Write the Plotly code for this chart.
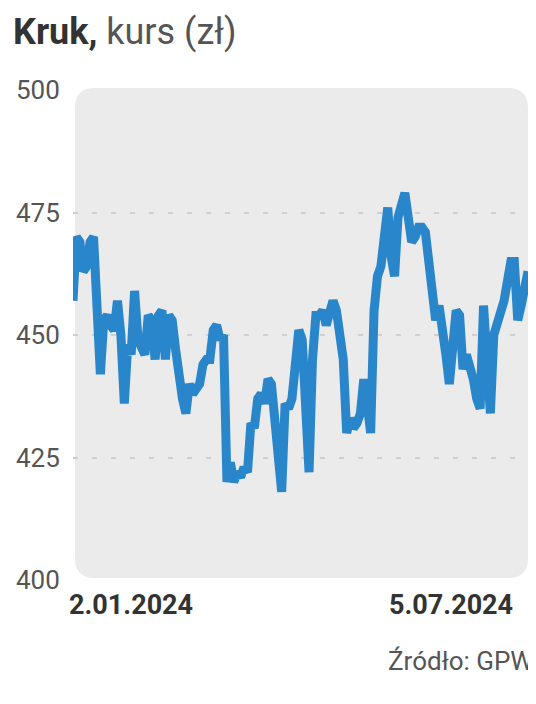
import plotly.graph_objects as go

# Data
title_bold = "Kruk,"
title_rest = " kurs (zł)"
source_text = "Źródło: GPW"
date_labels = ["2.01.2024", "5.07.2024"]
y_ticks = [400, 425, 450, 475, 500]
prices = [
    457, 470, 469, 463, 464, 469, 470, 452, 442, 453,
    454, 452, 451, 457, 450, 436, 448, 446, 459, 449,
    447, 446, 454, 453, 445, 454, 455, 445, 454, 453,
    447, 440, 437, 434, 440, 438, 439, 440, 444, 445,
    445, 451, 452, 449, 450, 420, 424, 420, 422, 421,
    423, 422, 432, 431, 437, 438, 436, 441, 440, 433,
    424, 418, 436, 435, 437, 445, 451, 449, 438, 422,
    445, 454, 454, 455, 452, 455, 457, 455, 449, 445,
    430, 433, 431, 432, 434, 441, 436, 430, 455, 462,
    464, 471, 476, 466, 462, 474, 476, 479, 474, 469,
    470, 472, 472, 471, 465, 458, 453, 456, 449, 446,
    440, 447, 455, 454, 443, 446, 444, 441, 437, 435,
    456, 440, 434, 450, 452, 454, 457, 461, 465, 465,
    453, 456, 461, 463,
]
days = list(range(len(prices)))

# page body has an 8px margin, so the figure is sized/offset accordingly
W, H = 528, 696
L, R, T, B = 59, 8, 82, 124
pw, ph = W - L - R, H - T - B

fig = go.Figure()
fig.add_trace(go.Scatter(
    x=days, y=prices, mode="lines",
    line=dict(color="#2a86cb", width=9, shape="linear"),
    hoverinfo="skip", showlegend=False, cliponaxis=False,
))

# rounded background rectangle (paper coords)
x0 = 2 / pw
x1 = 1.0
y0 = 2 / ph
y1 = 1 + 2 / ph
rad = 20
rx, ry = rad / pw, rad / ph
path = (
    f"M {x0+rx},{y0} L {x1-rx},{y0} Q {x1},{y0} {x1},{y0+ry} "
    f"L {x1},{y1-ry} Q {x1},{y1} {x1-rx},{y1} "
    f"L {x0+rx},{y1} Q {x0},{y1} {x0},{y1-ry} "
    f"L {x0},{y0+ry} Q {x0},{y0} {x0+rx},{y0} Z"
)
fig.add_shape(type="path", path=path, xref="paper", yref="paper",
              fillcolor="#ebebeb", line=dict(width=0), layer="below")

font_main = "Roboto, Liberation Sans, DejaVu Sans, sans-serif"

fig.update_layout(
    width=W, height=H,
    margin=dict(l=L, r=R, t=T, b=B, pad=0),
    paper_bgcolor="white", plot_bgcolor="rgba(0,0,0,0)",
    showlegend=False,
    xaxis=dict(range=[days[0], days[-1]], showgrid=False, zeroline=False,
               showticklabels=False, showline=False, fixedrange=True),
    yaxis=dict(range=[400, 500], tickvals=y_ticks,
               ticktext=[str(v) for v in y_ticks],
               showgrid=True, gridcolor="#cfcfcf", gridwidth=1.5,
               griddash="5px,14px",
               zeroline=False, showline=False,
               ticks="outside", ticklen=7, tickcolor="rgba(0,0,0,0)",
               tickfont=dict(family=font_main, size=26, color="#555555"),
               layer="below traces", fixedrange=True),
    annotations=[
        dict(text=f"<b>{title_bold}</b><span style='color:#555555'>{title_rest}</span>",
             xref="paper", yref="paper", x=(-4 - L) / pw, y=1 + 35 / ph,
             xanchor="left", yanchor="bottom", showarrow=False,
             font=dict(family=font_main, size=36, color="#333333")),
        dict(text=f"<b>{date_labels[0]}</b>", xref="paper", yref="paper",
             x=0, y=0, xanchor="left", yanchor="top", yshift=-7, xshift=-6,
             showarrow=False,
             font=dict(family=font_main, size=27, color="#333333")),
        dict(text=f"<b>{date_labels[1]}</b>", xref="paper", yref="paper",
             x=1 - 13 / pw, y=0, xanchor="right", yanchor="top", yshift=-7,
             showarrow=False,
             font=dict(family=font_main, size=27, color="#333333")),
        dict(text=source_text, xref="paper", yref="paper",
             x=1 + 7 / pw, y=0, xanchor="right", yanchor="top", yshift=-64,
             showarrow=False,
             font=dict(family=font_main, size=26, color="#555555")),
    ],
)

fig.write_html("out.html")
